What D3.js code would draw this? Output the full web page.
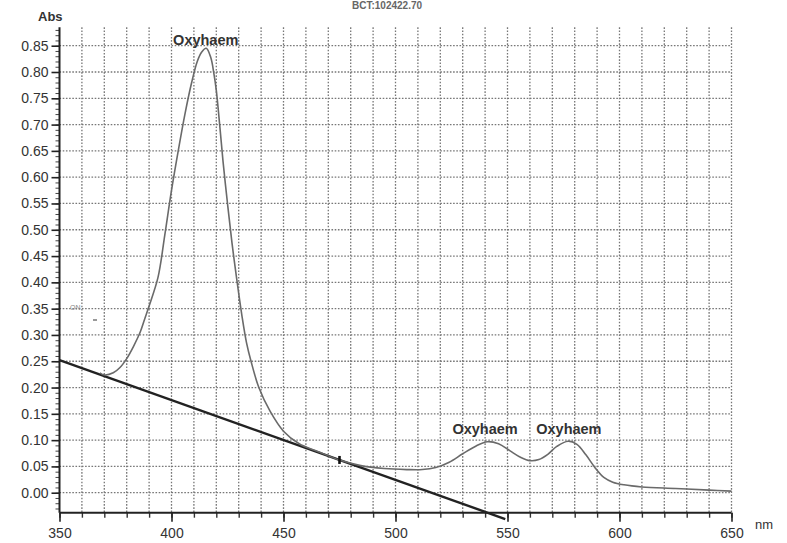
<!DOCTYPE html>
<html>
<head>
<meta charset="utf-8">
<script src="https://cdn.jsdelivr.net/npm/d3@7"></script>
<style>
  html, body { margin: 0; padding: 0; background: #ffffff; }
  svg { display: block; }
</style>
</head>
<body>
<svg id="chart" width="787" height="543"></svg>
<script>
// ---- data ----
const wavelength = [368, 370, 374, 377, 380, 383, 386, 388, 390, 394, 397, 400, 403, 406, 409, 411.5, 413.5, 415.5, 417.5, 419, 420, 421.5, 423, 425, 427, 429, 431.5, 433.5, 435.5, 439, 444, 450, 457, 465, 475, 484, 495, 505, 512, 518, 524, 530, 536, 541, 546, 551, 556, 560, 564, 568, 572, 577, 581, 585, 589, 593, 597, 602, 610, 625, 640, 650];
const absorbance = [0.228, 0.224, 0.228, 0.238, 0.255, 0.278, 0.305, 0.330, 0.355, 0.410, 0.490, 0.575, 0.650, 0.720, 0.780, 0.820, 0.838, 0.845, 0.828, 0.795, 0.765, 0.700, 0.630, 0.550, 0.475, 0.410, 0.335, 0.285, 0.250, 0.200, 0.155, 0.117, 0.093, 0.079, 0.062, 0.052, 0.046, 0.044, 0.044, 0.048, 0.058, 0.074, 0.089, 0.097, 0.093, 0.080, 0.067, 0.061, 0.063, 0.073, 0.088, 0.098, 0.092, 0.072, 0.048, 0.029, 0.020, 0.015, 0.011, 0.008, 0.005, 0.003];
const baselineNm = [350, 549];
const baselineAbs = [0.252, -0.050];
const markerNm = [475];
const yTickValues = [0.00, 0.05, 0.10, 0.15, 0.20, 0.25, 0.30, 0.35, 0.40, 0.45, 0.50, 0.55, 0.60, 0.65, 0.70, 0.75, 0.80, 0.85];
const xTickValues = [350, 400, 450, 500, 550, 600, 650];
const peakLabels = ["Oxyhaem", "Oxyhaem", "Oxyhaem"];
const peakLabelNm = [415.3, 540, 577.4];
const peakLabelAbs = [0.852, 0.111, 0.111];

// ---- layout ----
const svg = d3.select("#chart");
const x = d3.scaleLinear().domain([350, 650]).range([59.5, 731.5]);
const y = d3.scaleLinear().domain([-0.038, 0.885]).range([512.7, 27.3]);
const font = "'Liberation Sans', Arial, sans-serif";

// faint header text at the top edge
svg.append("text").attr("x", 352).attr("y", 9).attr("font-family", font)
  .attr("font-weight", "bold").attr("font-size", 10).attr("fill", "#666")
  .text("BCT:102422.70");

// grid
const grid = svg.append("g").attr("stroke", "#777").attr("stroke-width", 1.3)
  .attr("stroke-dasharray", "1.6,1.6").attr("fill", "none");
grid.selectAll("line.h").data(yTickValues).join("line").attr("class", "h")
  .attr("x1", x(350)).attr("x2", x(650))
  .attr("y1", d => y(d)).attr("y2", d => y(d));
grid.selectAll("line.v").data(d3.range(360, 651, 10)).join("line").attr("class", "v")
  .attr("x1", d => x(d)).attr("x2", d => x(d))
  .attr("y1", y(0.885)).attr("y2", y(-0.038));

// y axis
const yAxisG = svg.append("g").attr("transform", `translate(${x(350)},0)`);
yAxisG.call(d3.axisLeft(y).tickValues(d3.range(-3, 89).map(i => i / 100)).tickSize(4).tickFormat(""));
yAxisG.call(g => g.selectAll(".domain").remove());
yAxisG.selectAll(".tick line").attr("stroke", "#444").attr("stroke-width", 1);
const yMajor = svg.append("g").attr("transform", `translate(${x(350)},0)`)
  .call(d3.axisLeft(y).tickValues(yTickValues).tickSize(8).tickPadding(3).tickFormat(d3.format(".2f")));
yMajor.select(".domain").remove();
yMajor.selectAll(".tick line").attr("stroke", "#222").attr("stroke-width", 1.6);
yMajor.selectAll(".tick text").attr("font-family", font).attr("font-size", 14).attr("fill", "#333");
svg.append("line").attr("x1", x(350)).attr("x2", x(350)).attr("y1", y(0.885)).attr("y2", y(-0.038))
  .attr("stroke", "#222").attr("stroke-width", 2);
svg.append("text").attr("x", 38).attr("y", 21).attr("font-family", font).attr("font-weight", "bold")
  .attr("font-size", 13).attr("fill", "#333").text("Abs");

// x axis
const xMinor = svg.append("g").attr("transform", `translate(0,${y(-0.038)})`)
  .call(d3.axisBottom(x).tickValues(d3.range(350, 651, 10)).tickSize(5).tickFormat(""));
xMinor.select(".domain").remove();
xMinor.selectAll(".tick line").attr("stroke", "#333").attr("stroke-width", 1.4);
const xMajor = svg.append("g").attr("transform", `translate(0,${y(-0.038)})`)
  .call(d3.axisBottom(x).tickValues(xTickValues).tickSize(9).tickPadding(6).tickFormat(d3.format("d")));
xMajor.select(".domain").remove();
xMajor.selectAll(".tick line").attr("stroke", "#222").attr("stroke-width", 1.6);
xMajor.selectAll(".tick text").attr("font-family", font).attr("font-size", 14).attr("fill", "#333");
svg.append("line").attr("x1", x(350)).attr("x2", x(650)).attr("y1", y(-0.038)).attr("y2", y(-0.038))
  .attr("stroke", "#222").attr("stroke-width", 2);
svg.append("text").attr("x", 755).attr("y", 529).attr("font-family", font)
  .attr("font-size", 13).attr("fill", "#333").text("nm");

// baseline straight line
const line = d3.line().x(d => x(d[0])).y(d => y(d[1]));
svg.append("path").datum(d3.zip(baselineNm, baselineAbs)).attr("d", line)
  .attr("fill", "none").attr("stroke", "#222").attr("stroke-width", 2.4);

// spectrum
const curve = d3.line().x(d => x(d[0])).y(d => y(d[1])).curve(d3.curveCatmullRom.alpha(0.5));
svg.append("path").datum(d3.zip(wavelength, absorbance)).attr("d", curve)
  .attr("fill", "none").attr("stroke", "#6a6a6a").attr("stroke-width", 1.6);

// small marker on baseline
const slope = (baselineAbs[1] - baselineAbs[0]) / (baselineNm[1] - baselineNm[0]);
svg.selectAll("line.marker").data(markerNm).join("line").attr("class", "marker")
  .attr("x1", d => x(d)).attr("x2", d => x(d))
  .attr("y1", d => y(baselineAbs[0] + slope * (d - baselineNm[0])) - 4)
  .attr("y2", d => y(baselineAbs[0] + slope * (d - baselineNm[0])) + 4)
  .attr("stroke", "#111").attr("stroke-width", 2.6);

// peak labels
svg.selectAll("text.peak").data(peakLabels).join("text").attr("class", "peak")
  .attr("x", (d, i) => x(peakLabelNm[i])).attr("y", (d, i) => y(peakLabelAbs[i]))
  .attr("text-anchor", "middle").attr("font-family", font).attr("font-weight", "bold")
  .attr("font-size", 14.5).attr("fill", "#333").text(d => d);

// scan smudges
svg.append("text").attr("x", 70).attr("y", 310).attr("font-family", font)
  .attr("font-size", 7).attr("fill", "#888").text("ON");
svg.append("line").attr("x1", 93).attr("x2", 97).attr("y1", 320).attr("y2", 320)
  .attr("stroke", "#777").attr("stroke-width", 1.5);
</script>
</body>
</html>
